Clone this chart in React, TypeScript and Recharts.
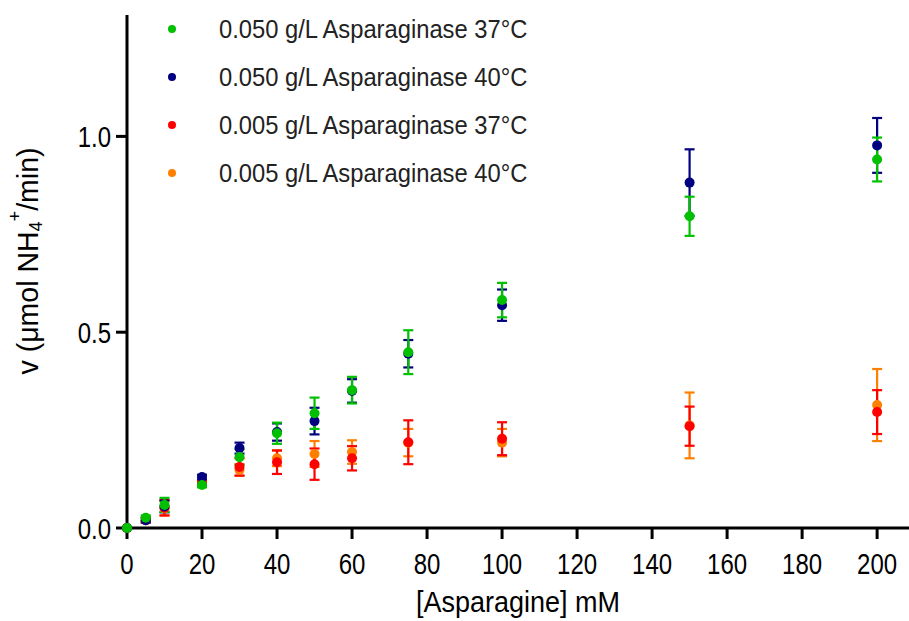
import React from 'react';
import { ScatterChart, Scatter, XAxis, YAxis, ErrorBar } from 'recharts';

const concentrations = [0, 5, 10, 20, 30, 40, 50, 60, 75, 100, 150, 200];

const green37 = [0, 0.026, 0.059, 0.11, 0.181, 0.242, 0.293, 0.352, 0.449, 0.582, 0.796, 0.941];
const green37Err = [0, 0.006, 0.018, 0.006, 0.02, 0.027, 0.04, 0.034, 0.056, 0.044, 0.05, 0.056];

const blue40 = [0, 0.02, 0.055, 0.13, 0.204, 0.245, 0.273, 0.35, 0.445, 0.569, 0.882, 0.977];
const blue40Err = [0, 0.006, 0.015, 0.006, 0.014, 0.022, 0.034, 0.03, 0.035, 0.04, 0.085, 0.07];

const red37 = [0, 0.02, 0.052, 0.117, 0.156, 0.168, 0.163, 0.178, 0.219, 0.228, 0.26, 0.296];
const red37Err = [0, 0.006, 0.02, 0.006, 0.022, 0.03, 0.04, 0.031, 0.056, 0.042, 0.05, 0.056];

const orange40 = [0, 0.02, 0.05, 0.115, 0.148, 0.178, 0.189, 0.194, 0.218, 0.218, 0.262, 0.314];
const orange40Err = [0, 0.006, 0.018, 0.006, 0.015, 0.02, 0.033, 0.03, 0.035, 0.035, 0.084, 0.092];

const xTicks = [0, 20, 40, 60, 80, 100, 120, 140, 160, 180, 200];
const yTicks = [0, 0.5, 1.0];

const seriesNames = [
  '0.050 g/L Asparaginase 37°C',
  '0.050 g/L Asparaginase 40°C',
  '0.005 g/L Asparaginase 37°C',
  '0.005 g/L Asparaginase 40°C',
];
const seriesColors = ['#00c000', '#000080', '#ff0000', '#ff8000'];

const build = (vals: number[], errs: number[]) =>
  concentrations.map((x, i) => ({ x, y: vals[i], err: errs[i] }));

const greenData = build(green37, green37Err);
const blueData = build(blue40, blue40Err);
const redData = build(red37, red37Err);
const orangeData = build(orange40, orange40Err);

const REG = '"Liberation Sans", Arial, sans-serif';
const SQUEEZE = 0.8;

const makeDot = (color: string) => (props: any) => (
  <circle cx={props.cx} cy={props.cy} r={5} fill={color} />
);

const XTick = (props: any) => {
  const { x, y, payload } = props;
  return (
    <g transform={`translate(${x}, ${y}) scale(${SQUEEZE}, 1)`}>
      <text x={0} y={0} dy="0.71em" textAnchor="middle" fontFamily={REG} fontSize={30} fill="#000">
        {payload.value}
      </text>
    </g>
  );
};

const YTick = (props: any) => {
  const { x, y, payload } = props;
  return (
    <g transform={`translate(${x}, ${y}) scale(${SQUEEZE}, 1)`}>
      <text x={0} y={0} dy="0.355em" textAnchor="end" fontFamily={REG} fontSize={30} fill="#000">
        {Number(payload.value).toFixed(1)}
      </text>
    </g>
  );
};

const XLabel = (props: any) => {
  const vb = props.viewBox || {};
  const cx = vb.x + vb.width / 2;
  const cy = 601;
  return (
    <g transform={`translate(${cx}, ${cy}) scale(0.9, 1)`}>
      <text x={0} y={0} textAnchor="middle" dominantBaseline="central" fontFamily={REG} fontSize={30} fill="#000">
        [Asparagine] mM
      </text>
    </g>
  );
};

const YLabel = () => (
  <g transform="translate(28, 261) rotate(-90) scale(0.95, 1)">
    <text
      x={0}
      y={0}
      textAnchor="middle"
      dominantBaseline="central"
      fontFamily={REG}
      fontSize={30}
      fill="#000"
    >
      v (μmol NH
      <tspan fontSize={19} dy={7}>4</tspan>
      <tspan fontSize={19} dy={-21}>+</tspan>
      <tspan dy={14}>/min)</tspan>
    </text>
  </g>
);

export default function App() {
  return (
    <div style={{ position: 'relative', width: 909, height: 621, background: '#fff' }}>
      <style>{'body{margin:0;background:#fff}'}</style>
      <ScatterChart width={909} height={621} margin={{ top: 15, right: 0, bottom: 0, left: 0 }}>
        <XAxis
          type="number"
          dataKey="x"
          domain={[0, 208.5]}
          ticks={xTicks}
          height={93}
          axisLine={{ stroke: '#000', strokeWidth: 3 }}
          tickLine={{ stroke: '#000', strokeWidth: 3 }}
          tickSize={11}
          tickMargin={14}
          tick={<XTick />}
          label={{ content: (p: any) => <XLabel {...p} /> }}
        />
        <YAxis
          type="number"
          dataKey="y"
          domain={[0, 1.31]}
          ticks={yTicks}
          width={127}
          axisLine={{ stroke: '#000', strokeWidth: 3 }}
          tickLine={{ stroke: '#000', strokeWidth: 3 }}
          tickSize={11}
          tickMargin={5}
          tick={<YTick />}
          label={{ content: () => <YLabel /> }}
        />
        <Scatter data={orangeData} fill={seriesColors[3]} shape={makeDot(seriesColors[3])} isAnimationActive={false}>
          <ErrorBar dataKey="err" direction="y" width={5} strokeWidth={2.2} stroke={seriesColors[3]} />
        </Scatter>
        <Scatter data={redData} fill={seriesColors[2]} shape={makeDot(seriesColors[2])} isAnimationActive={false}>
          <ErrorBar dataKey="err" direction="y" width={5} strokeWidth={2.2} stroke={seriesColors[2]} />
        </Scatter>
        <Scatter data={blueData} fill={seriesColors[1]} shape={makeDot(seriesColors[1])} isAnimationActive={false}>
          <ErrorBar dataKey="err" direction="y" width={5} strokeWidth={2.2} stroke={seriesColors[1]} />
        </Scatter>
        <Scatter data={greenData} fill={seriesColors[0]} shape={makeDot(seriesColors[0])} isAnimationActive={false}>
          <ErrorBar dataKey="err" direction="y" width={5} strokeWidth={2.2} stroke={seriesColors[0]} />
        </Scatter>
      </ScatterChart>
      <div style={{ position: 'absolute', left: 160, top: 5 }}>
        {seriesNames.map((name, i) => (
          <div key={name} style={{ display: 'flex', alignItems: 'center', height: 48 }}>
            <div style={{ width: 24, display: 'flex', justifyContent: 'center' }}>
              <div style={{ width: 8, height: 8, borderRadius: 4, background: seriesColors[i] }} />
            </div>
            <span
              style={{
                marginLeft: 35,
                fontFamily: REG,
                fontSize: 25,
                color: '#222',
                whiteSpace: 'nowrap',
                display: 'inline-block',
                transform: 'scaleX(0.95)',
                transformOrigin: 'left center',
              }}
            >
              {name}
            </span>
          </div>
        ))}
      </div>
    </div>
  );
}
